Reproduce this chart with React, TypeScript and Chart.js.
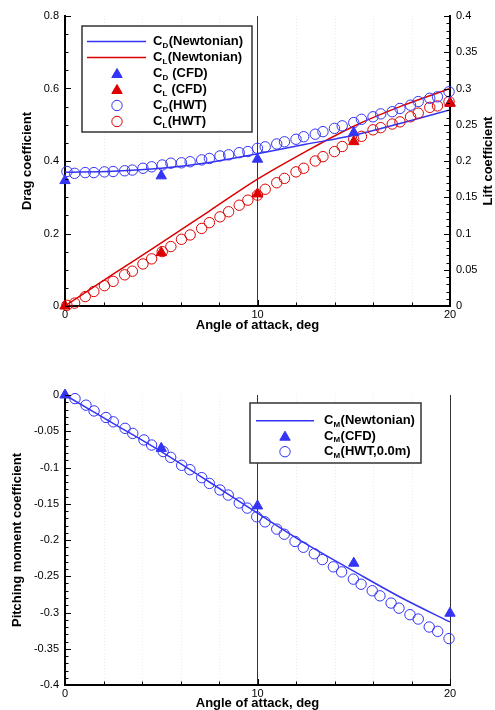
import React, { useEffect, useRef } from "react";
import { Chart, registerables } from "chart.js";

Chart.register(...registerables);

// ---------------- data ----------------
const aoaNewton = [0, 2.5, 5, 7.5, 10, 12.5, 15, 17.5, 20];
const cdNewton = [0.369, 0.372, 0.38, 0.396, 0.42, 0.446, 0.471, 0.505, 0.541];
const clNewton = [0, 0.044, 0.087, 0.131, 0.175, 0.213, 0.248, 0.276, 0.3];
const cmNewton = [0, -0.039, -0.078, -0.12, -0.163, -0.205, -0.243, -0.28, -0.313];

const aoaCFD = [0, 5, 10, 15, 20];
const cdCFD = [0.346, 0.359, 0.405, 0.478, 0.56];
const clCFD = [0, 0.0736, 0.1545, 0.2267, 0.2796];
const cmCFD = [0, -0.0736, -0.153, -0.232, -0.301];

const aoaHWT = [
  0.1, 0.5, 1.05, 1.5, 2.05, 2.5, 3.1, 3.5, 4.05, 4.5, 5.05, 5.5, 6.05, 6.5, 7.1, 7.5, 8.05, 8.5, 9.05, 9.5,
  10.0, 10.4, 11.0, 11.4, 12.0, 12.4, 13.0, 13.4, 14.0, 14.4, 15.0, 15.4, 16.0, 16.4, 17.0, 17.4, 17.95, 18.35,
  18.95, 19.35, 19.95,
];
const cdHWT = [
  0.371, 0.366, 0.368, 0.368, 0.37, 0.371, 0.373, 0.375, 0.38, 0.384, 0.389, 0.394, 0.395, 0.398, 0.403, 0.407,
  0.414, 0.417, 0.423, 0.426, 0.435, 0.439, 0.447, 0.453, 0.46, 0.467, 0.474, 0.481, 0.49, 0.497, 0.506, 0.515,
  0.522, 0.53, 0.536, 0.545, 0.554, 0.564, 0.573, 0.577, 0.591,
];
const clHWT = [
  0.001, 0.004, 0.013, 0.02, 0.028, 0.034, 0.043, 0.048, 0.058, 0.065, 0.075, 0.082, 0.092, 0.098, 0.107, 0.115,
  0.123, 0.13, 0.139, 0.146, 0.153, 0.161, 0.17, 0.176, 0.185, 0.19, 0.2, 0.206, 0.213, 0.22, 0.23, 0.234, 0.243,
  0.246, 0.251, 0.254, 0.261, 0.266, 0.274, 0.276, 0.282,
];

const aoaCM = [
  0.52, 1.09, 1.51, 2.13, 2.51, 3.12, 3.52, 4.1, 4.5, 5.1, 5.49, 6.06, 6.49, 7.1, 7.5, 8.05, 8.48, 9.05, 9.47,
  9.96, 10.39, 11.0, 11.39, 11.95, 12.38, 12.95, 13.37, 13.94, 14.37, 14.98, 15.38, 15.96, 16.36, 16.94, 17.35,
  17.92, 18.35, 18.92, 19.36, 19.95,
];
const cmHWT = [
  -0.005, -0.014, -0.022, -0.031, -0.037, -0.046, -0.053, -0.062, -0.069, -0.078, -0.086, -0.097, -0.103, -0.114,
  -0.122, -0.131, -0.138, -0.149, -0.156, -0.168, -0.175, -0.185, -0.192, -0.202, -0.21, -0.219, -0.227, -0.237,
  -0.244, -0.254, -0.261, -0.27, -0.277, -0.287, -0.294, -0.303, -0.309, -0.32, -0.326, -0.336,
];

const xTitle = "Angle of attack, deg";
const dragTitle = "Drag coefficient";
const liftTitle = "Lift coefficient";
const momentTitle = "Pitching moment coefficient";

const topLegend = [
  { kind: "line", color: "blue", sub: "D", rest: "(Newtonian)" },
  { kind: "line", color: "red", sub: "L", rest: "(Newtonian)" },
  { kind: "tri", color: "blue", sub: "D", rest: " (CFD)" },
  { kind: "tri", color: "red", sub: "L", rest: " (CFD)" },
  { kind: "circle", color: "blue", sub: "D", rest: "(HWT)" },
  { kind: "circle", color: "red", sub: "L", rest: "(HWT)" },
];
const bottomLegend = [
  { kind: "line", color: "blue", sub: "M", rest: "(Newtonian)" },
  { kind: "tri", color: "blue", sub: "M", rest: "(CFD)" },
  { kind: "circle", color: "blue", sub: "M", rest: "(HWT,0.0m)" },
];

// ---------------- style ----------------
const BLUE = "#3434f4";
const RED = "#dc0000";
const COLORS: Record<string, string> = { blue: BLUE, red: RED };
const FONT = "'Liberation Sans', Arial, Helvetica, sans-serif";
const TRI_R = 6;
const CIR_R = 5.2;

const pts = (xs: number[], ys: number[]) => xs.map((x, i) => ({ x, y: ys[i] }));
const fmt = (v: any) => String(Number((+v).toFixed(3)));

// ---------------- plugins ----------------
function inwardTicksPlugin(axes: { id: string; side: string; major: number; minor: number }[]) {
  return {
    id: "inwardTicks",
    afterDraw(chart: any) {
      const ctx = chart.ctx;
      const ca = chart.chartArea;
      ctx.save();
      ctx.strokeStyle = "#000";
      ctx.lineWidth = 1;
      for (const a of axes) {
        const s = chart.scales[a.id];
        const n = Math.round((s.max - s.min) / a.minor);
        for (let i = 0; i <= n; i++) {
          const v = s.min + i * a.minor;
          const r = v / a.major;
          const isMajor = Math.abs(r - Math.round(r)) < 1e-6;
          const len = isMajor ? 6 : 3.5;
          const p = Math.round(s.getPixelForValue(v)) + 0.5;
          ctx.beginPath();
          if (a.side === "bottom") {
            ctx.moveTo(p, ca.bottom);
            ctx.lineTo(p, ca.bottom - len);
          } else if (a.side === "left") {
            ctx.moveTo(ca.left, p);
            ctx.lineTo(ca.left + len, p);
          } else {
            ctx.moveTo(ca.right, p);
            ctx.lineTo(ca.right - len, p);
          }
          ctx.stroke();
        }
      }
      ctx.restore();
    },
  };
}

const faintGridPlugin = {
  id: "faintGrid",
  beforeDatasetsDraw(chart: any) {
    const ctx = chart.ctx;
    const ca = chart.chartArea;
    const s = chart.scales.x;
    ctx.save();
    ctx.strokeStyle = "rgba(0,0,0,0.07)";
    ctx.lineWidth = 1;
    ctx.setLineDash([1, 2]);
    for (let v = 2; v < 20; v += 2) {
      if (v === 10) continue;
      const p = Math.round(s.getPixelForValue(v)) + 0.5;
      ctx.beginPath();
      ctx.moveTo(p, ca.top);
      ctx.lineTo(p, ca.bottom);
      ctx.stroke();
    }
    ctx.restore();
  },
};

function drawTri(ctx: CanvasRenderingContext2D, x: number, y: number, r: number, color: string) {
  ctx.beginPath();
  ctx.moveTo(x, y - r);
  ctx.lineTo(x + 0.866 * r, y + r / 2);
  ctx.lineTo(x - 0.866 * r, y + r / 2);
  ctx.closePath();
  ctx.fillStyle = color;
  ctx.strokeStyle = color;
  ctx.lineWidth = 1;
  ctx.fill();
  ctx.stroke();
}

function legendPlugin(cfg: {
  rows: any[];
  box: [number, number, number, number];
  y0: number;
  dy: number;
  lx0: number;
  lx1: number;
  mx: number;
  tx: number;
}) {
  return {
    id: "texLegend",
    afterDraw(chart: any) {
      const ctx: CanvasRenderingContext2D = chart.ctx;
      ctx.save();
      const [bx0, by0, bx1, by1] = cfg.box;
      ctx.fillStyle = "#fff";
      ctx.fillRect(bx0, by0, bx1 - bx0, by1 - by0);
      ctx.strokeStyle = "#333";
      ctx.lineWidth = 1.5;
      ctx.strokeRect(bx0, by0, bx1 - bx0, by1 - by0);
      cfg.rows.forEach((row, i) => {
        const y = cfg.y0 + i * cfg.dy;
        const color = COLORS[row.color];
        if (row.kind === "line") {
          ctx.beginPath();
          ctx.strokeStyle = color;
          ctx.lineWidth = 1.5;
          ctx.moveTo(cfg.lx0, y);
          ctx.lineTo(cfg.lx1, y);
          ctx.stroke();
        } else if (row.kind === "tri") {
          drawTri(ctx, cfg.mx, y + 1, TRI_R, color);
        } else {
          ctx.beginPath();
          ctx.strokeStyle = color;
          ctx.lineWidth = 1;
          ctx.arc(cfg.mx, y, CIR_R, 0, Math.PI * 2);
          ctx.stroke();
        }
        ctx.fillStyle = "#000";
        ctx.textBaseline = "middle";
        ctx.textAlign = "left";
        ctx.font = `bold 13px ${FONT}`;
        let x = cfg.tx;
        ctx.fillText("C", x, y);
        x += ctx.measureText("C").width;
        ctx.font = `bold 8px ${FONT}`;
        ctx.fillText(row.sub, x, y + 4);
        x += ctx.measureText(row.sub).width + 0.5;
        ctx.font = `bold 13px ${FONT}`;
        ctx.fillText(row.rest, x, y);
      });
      ctx.restore();
    },
  };
}

function rightTitlePlugin(text: string, x: number) {
  return {
    id: "rightTitle",
    afterDraw(chart: any) {
      const ctx = chart.ctx;
      const ca = chart.chartArea;
      ctx.save();
      ctx.translate(x, (ca.top + ca.bottom) / 2);
      ctx.rotate(-Math.PI / 2);
      ctx.font = `bold 13px ${FONT}`;
      ctx.fillStyle = "#000";
      ctx.textAlign = "center";
      ctx.textBaseline = "middle";
      ctx.fillText(text, 0, 0);
      ctx.restore();
    },
  };
}

// ---------------- shared option pieces ----------------
const tickFont = { family: FONT, size: 11 };
const titleFont = { family: FONT, size: 13, weight: "bold" as const };

function xScale(height: number, titlePadBottom: number) {
  return {
    type: "linear",
    position: "bottom",
    min: 0,
    max: 20,
    afterFit: (s: any) => {
      s.height = height;
    },
    ticks: { stepSize: 10, padding: 2, color: "#000", font: tickFont, callback: fmt, maxRotation: 0, autoSkip: false },
    grid: {
      drawTicks: false,
      lineWidth: 1,
      color: (c: any) => (c.tick && (c.tick.value === 10 || c.tick.value === 20) ? "#333" : "rgba(0,0,0,0)"),
    },
    border: { display: true, color: "#000", width: 2 },
    title: { display: true, text: xTitle, color: "#000", font: titleFont, padding: { top: 0, bottom: titlePadBottom } },
  };
}

function yScale(opts: {
  position: string;
  min: number;
  max: number;
  step: number;
  width: number;
  title?: string;
  titlePad?: number;
}) {
  return {
    type: "linear",
    position: opts.position,
    min: opts.min,
    max: opts.max,
    afterFit: (s: any) => {
      s.width = opts.width;
    },
    ticks: { stepSize: opts.step, padding: 6, color: "#000", font: tickFont, callback: fmt, autoSkip: false },
    grid: { drawOnChartArea: false, drawTicks: false },
    border: { display: true, color: "#000", width: 2 },
    title: opts.title
      ? { display: true, text: opts.title, color: "#000", font: titleFont, padding: { top: opts.titlePad, bottom: 0 } }
      : { display: false },
  };
}

const triDS = (label: string, data: any, color: string, axis: string, order: number) => ({
  label,
  data,
  yAxisID: axis,
  showLine: false,
  pointStyle: "triangle",
  pointRadius: TRI_R,
  backgroundColor: color,
  borderColor: color,
  borderWidth: 1,
  clip: false,
  order,
});
const cirDS = (label: string, data: any, color: string, axis: string) => ({
  label,
  data,
  yAxisID: axis,
  showLine: false,
  pointStyle: "circle",
  pointRadius: CIR_R,
  backgroundColor: "rgba(0,0,0,0)",
  borderColor: color,
  borderWidth: 1,
  clip: false,
  order: 1,
});
const lineDS = (label: string, data: any, color: string, axis: string) => ({
  label,
  data,
  yAxisID: axis,
  showLine: true,
  pointRadius: 0,
  borderColor: color,
  backgroundColor: color,
  borderWidth: 1.5,
  cubicInterpolationMode: "monotone",
  fill: false,
  clip: false,
  order: 2,
});

function topConfig(): any {
  return {
    type: "scatter",
    data: {
      datasets: [
        triDS("CD (CFD)", pts(aoaCFD, cdCFD), BLUE, "y", 0),
        triDS("CL (CFD)", pts(aoaCFD, clCFD), RED, "y1", -1),
        cirDS("CD (HWT)", pts(aoaHWT, cdHWT), BLUE, "y"),
        cirDS("CL (HWT)", pts(aoaHWT, clHWT), RED, "y1"),
        lineDS("CD (Newtonian)", pts(aoaNewton, cdNewton), BLUE, "y"),
        lineDS("CL (Newtonian)", pts(aoaNewton, clNewton), RED, "y1"),
      ],
    },
    options: {
      responsive: false,
      animation: false,
      devicePixelRatio: 1,
      layout: { padding: { top: 16, left: 0, right: 0, bottom: 0 } },
      scales: {
        x: xScale(34, 7),
        y: yScale({ position: "left", min: 0, max: 0.8, step: 0.2, width: 65, title: dragTitle, titlePad: 20 }),
        y1: yScale({ position: "right", min: 0, max: 0.4, step: 0.05, width: 45 }),
      },
      plugins: { legend: { display: false }, tooltip: { enabled: false } },
    },
    plugins: [
      faintGridPlugin,
      inwardTicksPlugin([
        { id: "x", side: "bottom", major: 10, minor: 2 },
        { id: "y", side: "left", major: 0.2, minor: 0.05 },
        { id: "y1", side: "right", major: 0.05, minor: 0.01 },
      ]),
      rightTitlePlugin(liftTitle, 488),
      legendPlugin({ rows: topLegend, box: [82, 26, 252, 132], y0: 41.5, dy: 16, lx0: 87, lx1: 146, mx: 117, tx: 153 }),
    ],
  };
}

function bottomConfig(): any {
  return {
    type: "scatter",
    data: {
      datasets: [
        triDS("CM (CFD)", pts(aoaCFD, cmCFD), BLUE, "y", 0),
        cirDS("CM (HWT,0.0m)", pts(aoaCM, cmHWT), BLUE, "y"),
        lineDS("CM (Newtonian)", pts(aoaNewton, cmNewton), BLUE, "y"),
      ],
    },
    options: {
      responsive: false,
      animation: false,
      devicePixelRatio: 1,
      layout: { padding: { top: 40, left: 0, right: 45, bottom: 0 } },
      scales: {
        x: xScale(25, -1.5),
        y: yScale({ position: "left", min: -0.4, max: 0, step: 0.05, width: 65, title: momentTitle, titlePad: 10 }),
      },
      plugins: { legend: { display: false }, tooltip: { enabled: false } },
    },
    plugins: [
      faintGridPlugin,
      inwardTicksPlugin([
        { id: "x", side: "bottom", major: 10, minor: 2 },
        { id: "y", side: "left", major: 0.05, minor: 0.01 },
      ]),
      legendPlugin({ rows: bottomLegend, box: [250, 48, 421, 108], y0: 65.7, dy: 15.5, lx0: 256, lx1: 314, mx: 285, tx: 324 }),
    ],
  };
}

function ChartCanvas({ top, width, height, make }: { top: number; width: number; height: number; make: () => any }) {
  const ref = useRef<HTMLCanvasElement>(null);
  useEffect(() => {
    const chart = new Chart(ref.current as HTMLCanvasElement, make());
    return () => chart.destroy();
  }, []);
  return (
    <canvas
      ref={ref}
      width={width}
      height={height}
      style={{ position: "absolute", left: 0, top, width, height, display: "block" }}
    />
  );
}

export default function App() {
  return (
    <div style={{ position: "absolute", left: 0, top: 0, width: 495, height: 710, background: "#fff", overflow: "hidden" }}>
      <ChartCanvas top={0} width={495} height={340} make={topConfig} />
      <ChartCanvas top={355} width={495} height={355} make={bottomConfig} />
    </div>
  );
}
